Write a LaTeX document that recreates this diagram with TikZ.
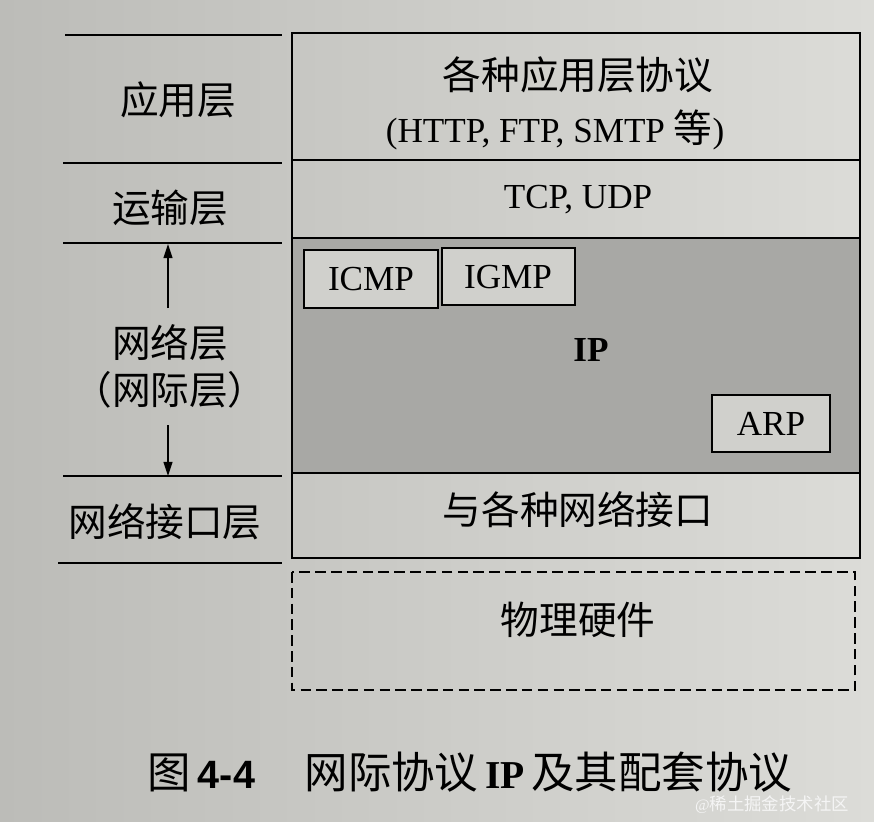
\documentclass[tikz,border=0pt]{standalone}
\usepackage{fontspec}
\setmainfont{Liberation Serif}
\newfontfamily\cjk{Noto Sans CJK SC}[Scale=1.1]
\newfontfamily\capsans{Liberation Sans}
\usetikzlibrary{arrows.meta}
\definecolor{paperL}{RGB}{188,188,184}
\definecolor{paperR}{RGB}{220,220,216}
\definecolor{boxpaper}{RGB}{208,208,204}
\definecolor{ipgray}{RGB}{168,168,165}
\tikzset{
  txt/.style={font=\fontsize{20}{24}\selectfont, inner sep=1pt},
  subbox/.style={draw, fill=boxpaper},
  pfeil/.style={-{Triangle[length=8pt,width=5pt]}, line width=0.9pt},
}
\begin{document}
\begin{tikzpicture}[x=0.02cm,y=-0.02cm,line width=1pt]
        % Hintergrund
        \shade[left color=paperL,right color=paperR] (0,0) rectangle (874,821);
        \useasboundingbox (0,0) rectangle (874,821);
        % IP-Bereich
        \fill[ipgray] (292,238) rectangle (860,473);
        % Schichten rechts
        \draw (292,33) rectangle (860,558);
        \draw
        (292,160) -- (860,160)
        (292,238) -- (860,238)
        (292,473) -- (860,473)
        ;
        % Physik
        \draw[dash pattern=on 6pt off 3pt,line width=0.8pt] (292,572) rectangle (855,690);
        % Kaesten ICMP, IGMP, ARP
        \draw[subbox] (304,250) rectangle (438,308);
        \draw[subbox] (442,248) rectangle (575,305);
        \draw[subbox] (712,395) rectangle (830,452);
        % Linien links
        \draw
        (65,35) -- (282,35)
        (63,163) -- (282,163)
        (63,243) -- (282,243)
        (63,476) -- (282,476)
        (58,563) -- (282,563)
        ;
        % Beschriftungen rechts
        \node[txt] (anw1) at (578,75) {\cjk 各种应用层协议};
        \node[txt] (anw2) at (555,130) {(HTTP, FTP, SMTP {\cjk 等})};
        \node[txt] (tcp) at (578,200) {TCP, UDP};
        \node[txt] (icmp) at (371,279) {ICMP};
        \node[txt] (igmp) at (508,277) {IGMP};
        \node[txt,font=\fontsize{20}{24}\selectfont\bfseries] (ip) at (591,350) {IP};
        \node[txt] (arp) at (771,424) {ARP};
        \node[txt] (nif) at (578,510) {\cjk 与各种网络接口};
        \node[txt] (phy) at (578,620) {\cjk 物理硬件};
        % Beschriftungen links
        \node[txt] (al) at (178,100) {\cjk 应用层};
        \node[txt] (tl) at (170,208) {\cjk 运输层};
        \node[txt] (nl) at (170,343) {\cjk 网络层};
        \node[txt] (nl2) at (170,390) {\cjk （网际层）};
        \node[txt] (il) at (165,522) {\cjk 网络接口层};
        \coordinate (oben) at (168,244);
        \coordinate (unten) at (168,476);
        \draw[pfeil,shorten <=8pt] (nl.north -| oben) -- (oben);
        \draw[pfeil,shorten <=8pt] (nl2.south -| unten) -- (unten);
        % Bildunterschrift
        \node[font=\fontsize{22.5}{27}\selectfont, inner sep=1pt] (cap) at (470,772)
        {{\cjk 图}\,{\capsans\bfseries 4-4}\quad\ {\cjk 网际协议}\,{\bfseries IP}\,{\cjk 及其配套协议}};
        \node[font=\fontsize{9}{11}\selectfont, text=white!92!gray, inner sep=0pt] (wm) at (772,805) {@{\cjk 稀土掘金技术社区}};
    \end{tikzpicture}
\end{document}
